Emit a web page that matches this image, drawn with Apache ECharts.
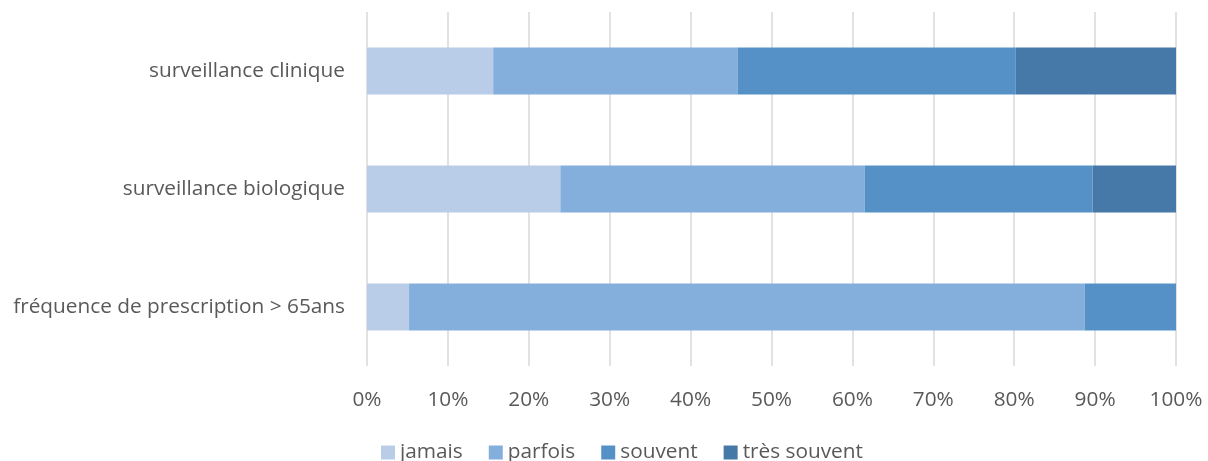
<!DOCTYPE html>
<html>
<head>
<meta charset="utf-8">
<script src="https://cdn.jsdelivr.net/npm/echarts@6/dist/echarts.min.js"></script>
<style>
    html, body { margin: 0; padding: 0; background: #fff; }
    #chart { width: 1208px; height: 461px; }
</style>
</head>
<body>
<div id="chart"></div>
<script>
// catégories, de haut en bas
const categories = ['surveillance clinique', 'surveillance biologique', 'fréquence de prescription > 65ans'];
const seriesNames = ['jamais', 'parfois', 'souvent', 'très souvent'];

// parts en %
const jamais = [15.6, 23.9, 5.2];
const parfois = [30.2, 37.6, 83.5];
const souvent = [34.4, 28.2, 11.3];
const tresSouvent = [19.8, 10.3, 0];

const colors = ['#B9CDE8', '#84AEDB', '#5591C7', '#4678A8'];

const labelStyle = {
    color: '#595959',
    fontSize: 20.8,
    fontFamily: 'Open Sans'
};

const myChart = echarts.init(document.getElementById('chart'));
const option = {
    animation: false,
    color: colors,
    textStyle: { fontFamily: 'Open Sans' },
    legend: {
        top: 437,
        left: 376,
        itemWidth: 14,
        itemHeight: 14,
        itemGap: 26,
        icon: 'rect',
        textStyle: labelStyle,
        data: seriesNames
    },
    grid: {
        left: 367,
        right: 32,
        top: 12,
        bottom: 95
    },
    xAxis: {
        type: 'value',
        min: 0,
        max: 100,
        interval: 10,
        axisLine: { show: false },
        axisTick: { show: false },
        splitLine: { lineStyle: { color: '#D9D9D9', width: 1.5 } },
        axisLabel: Object.assign({ formatter: '{value}%', margin: 24 }, labelStyle)
    },
    yAxis: {
        type: 'category',
        inverse: true,
        data: categories,
        axisLine: { show: false },
        axisTick: { show: false },
        axisLabel: Object.assign({ margin: 22 }, labelStyle)
    },
    series: [
        { name: 'jamais', type: 'bar', stack: 'total', barWidth: 47, data: jamais },
        { name: 'parfois', type: 'bar', stack: 'total', barWidth: 47, data: parfois },
        { name: 'souvent', type: 'bar', stack: 'total', barWidth: 47, data: souvent },
        { name: 'très souvent', type: 'bar', stack: 'total', barWidth: 47, data: tresSouvent }
    ]
};
myChart.setOption(option);
</script>
</body>
</html>
